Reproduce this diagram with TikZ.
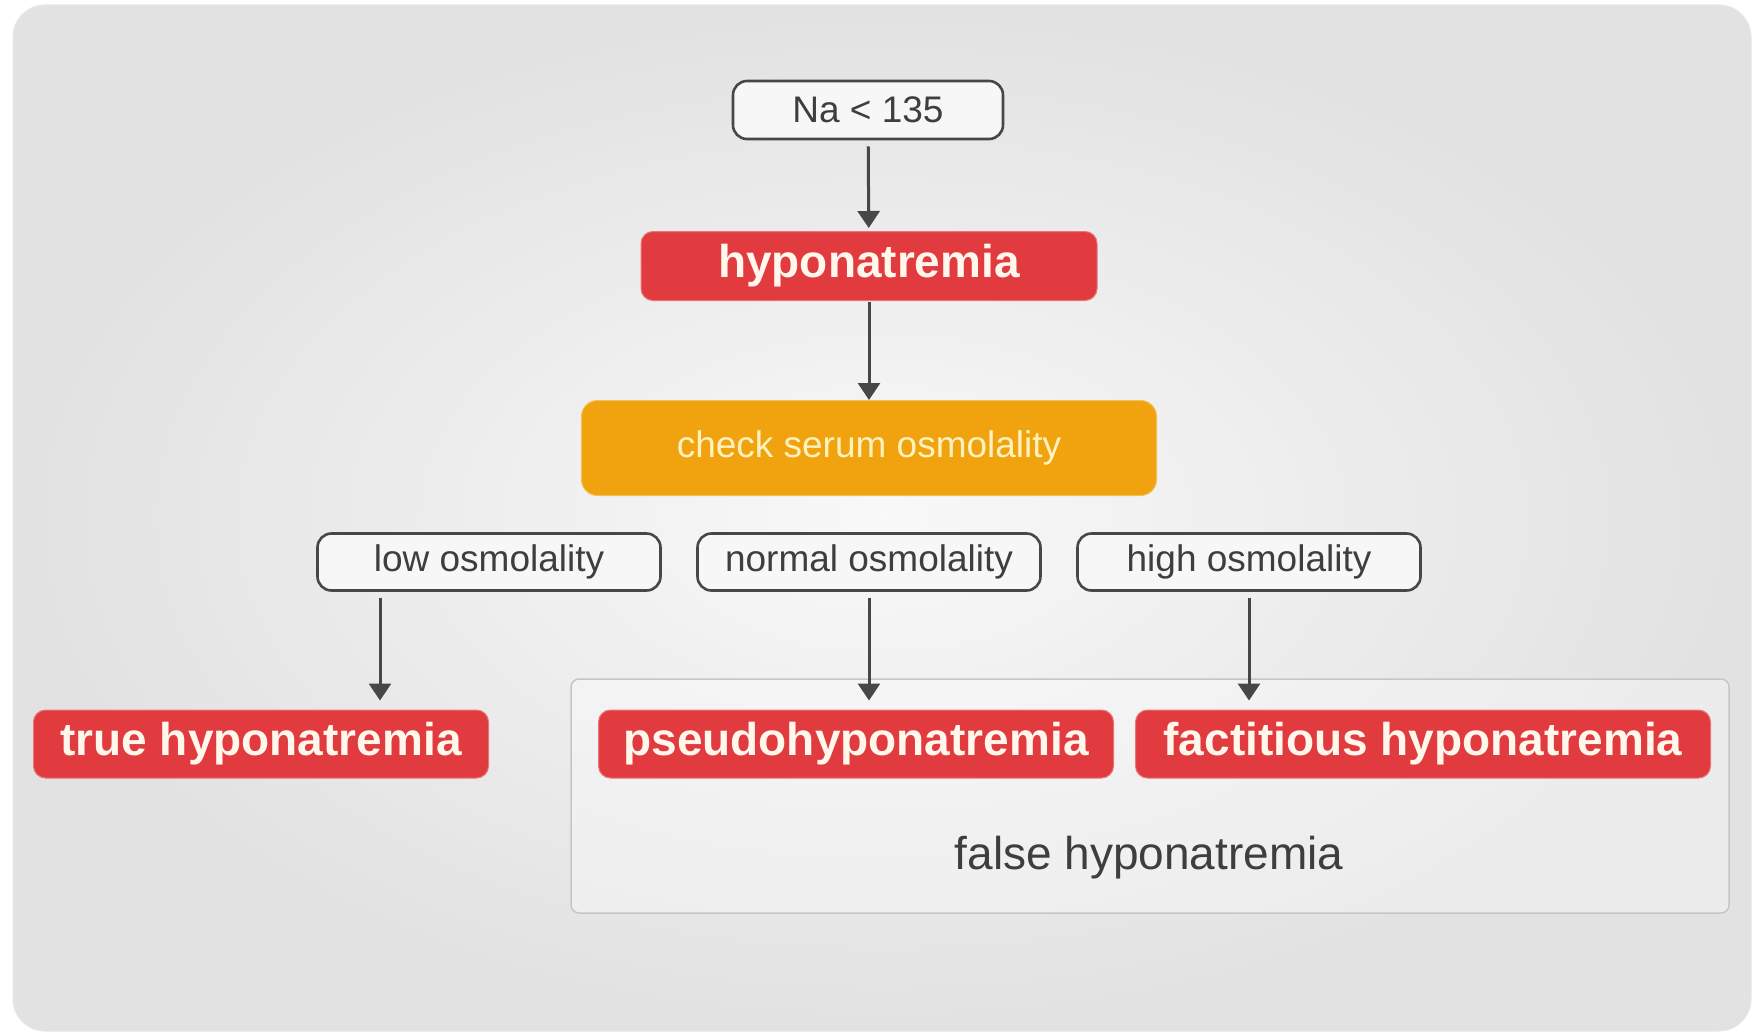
\documentclass[tikz,border=0pt]{standalone}
\usepackage{fontspec}
\setmainfont{Liberation Sans}
\usetikzlibrary{arrows.meta,positioning}
\definecolor{boxred}{HTML}{E13A3F}
\definecolor{boxorange}{HTML}{F0A30F}
\definecolor{linegray}{HTML}{474747}
\definecolor{textgray}{HTML}{3E3E3E}
\definecolor{creamtxt}{HTML}{FFF7EC}
\definecolor{yellowtxt}{HTML}{FFF2BE}
\newcommand{\bigbold}{\fontsize{46}{50}\selectfont\bfseries}
\newcommand{\midtext}{\fontsize{37}{40}\selectfont}

\begin{document}
\begin{tikzpicture}[x=1pt,y=-1pt,>={Triangle[width=22pt,length=17pt]},
  redbox/.style={fill=boxred,draw=boxred!70!white,line width=1pt,rounded corners=12pt,
    text=creamtxt,font=\bigbold,inner sep=0pt,minimum height=68pt},
  tagbox/.style={draw=linegray,line width=2.6pt,rounded corners=14pt,fill=white!94!gray,
    text=textgray,font=\midtext,inner sep=0pt,minimum width=343pt,minimum height=57pt},
  arr/.style={->,draw=linegray,line width=3pt,shorten <=6pt,shorten >=6pt}]
  \useasboundingbox (0,0) rectangle (1753,1033);
  \fill[white] (0,0) rectangle (1753,1033);
  \shade[inner color=gray!5,outer color=gray!23,rounded corners=32pt,draw=gray!18,line width=1pt]
    (13,5) rectangle (1751,1031);

  % group for the two false forms
  \node[draw=gray!45,line width=1.5pt,fill=white,fill opacity=0.35,rounded corners=8pt,
    minimum width=1158pt,minimum height=234pt,inner sep=0pt] (falsegrp) at (1150,796) {};
  \node[text=textgray,font=\fontsize{46}{50}\selectfont] (falselbl) at (1149,858) {false hyponatremia};

  \node[tagbox,minimum width=270pt,minimum height=58pt] (na) at (868,110) {Na < 135};
  \node[redbox,minimum width=456pt,minimum height=69pt] (hypo) at (869,266) {hyponatremia};
  \node[fill=boxorange,draw=boxorange!70!white,line width=1pt,rounded corners=16pt,text=yellowtxt,
    font=\midtext,minimum width=575pt,minimum height=95pt,inner sep=0pt] (check) at (869,448) {check serum osmolality};

  \node[tagbox] (low) at (489,562) {low osmolality};
  \node[tagbox] (normal) at (869,562) {normal osmolality};
  \node[tagbox] (high) at (1249,562) {high osmolality};

  \node[redbox,minimum width=455pt] (true) at (261,744) {true hyponatremia};
  \node[redbox,minimum width=515pt] (pseudo) at (856,744) {pseudohyponatremia};
  \node[redbox,minimum width=575pt] (fact) at (1423,744) {factitious hyponatremia};

  \draw[arr,shorten >=3pt] (na) -- (hypo);
  \draw[arr,shorten <=1pt,shorten >=0pt] (hypo) -- (check);
  \draw[arr,shorten >=9pt] ([xshift=-109pt]low.south) -- ([xshift=-109pt]low.south |- true.north);
  \draw[arr,shorten >=9pt] (normal.south) -- (normal.south |- pseudo.north);
  \draw[arr,shorten >=9pt] (high.south) -- (high.south |- fact.north);
\end{tikzpicture}
\end{document}
